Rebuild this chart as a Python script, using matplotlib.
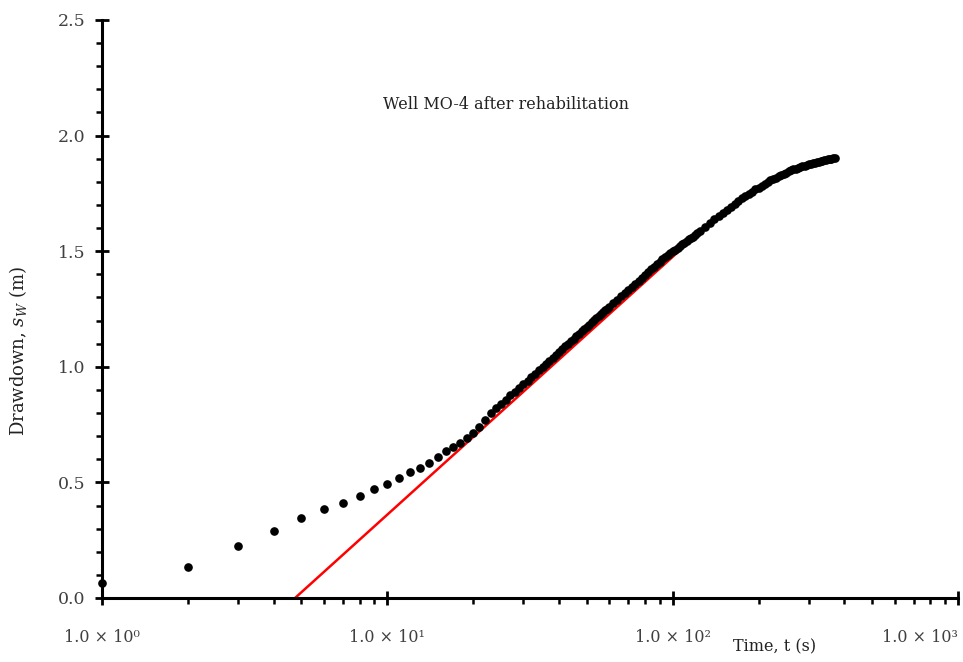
import numpy as np
import matplotlib
matplotlib.use("Agg")
import matplotlib.pyplot as plt
from matplotlib.ticker import LogLocator, MultipleLocator, FixedLocator, NullFormatter

# drawdown readings, well MO-4 after rehabilitation
time_s = [1, 2, 3, 4, 5, 6, 7, 8, 9, 10, 11, 12, 13, 14, 15, 16, 17, 18, 19, 20, 21,
          22, 23, 24, 25, 26, 27, 28, 29, 30,
          31, 32, 33, 34, 35, 36, 37, 38, 39, 40, 41, 42, 43, 44, 45, 46, 47, 48, 49, 50,
          51, 52, 53, 54, 55, 56, 57, 58, 59, 60,
          62, 64, 66, 68, 70, 72, 74, 76, 78, 80, 82, 84, 86, 88, 90,
          92, 94, 96, 98, 100, 102, 104, 106, 108, 110, 112, 114, 116, 118, 120, 122,
          125, 130, 135, 140, 145, 150, 155, 160, 165, 170, 175, 180, 185, 190, 195,
          200, 205, 210, 215, 220, 225, 230, 235, 240, 245, 250, 255, 260, 265, 270,
          275, 280, 285, 290, 295, 300, 305, 310, 315, 320, 325, 330, 335, 340, 345,
          350, 355, 360, 365, 370]
drawdown = [0.066, 0.135, 0.225, 0.289, 0.347, 0.384, 0.412, 0.441, 0.470, 0.492,
            0.520, 0.544, 0.564, 0.585, 0.609, 0.635, 0.652, 0.672, 0.693, 0.715, 0.740,
            0.770, 0.801, 0.821, 0.840, 0.858, 0.876, 0.893, 0.909, 0.925,
            0.940, 0.955, 0.970, 0.985, 0.999, 1.013, 1.026, 1.039, 1.052, 1.064,
            1.076, 1.088, 1.099, 1.110, 1.121, 1.132, 1.142, 1.153, 1.163, 1.173,
            1.182, 1.192, 1.201, 1.210, 1.218, 1.227, 1.235, 1.244, 1.252, 1.260,
            1.275, 1.290, 1.305, 1.319, 1.332, 1.346, 1.359, 1.372, 1.385, 1.397,
            1.409, 1.421, 1.432, 1.444, 1.455,
            1.465, 1.474, 1.483, 1.491, 1.500, 1.507, 1.515, 1.522, 1.530, 1.537,
            1.544, 1.551, 1.557, 1.563, 1.570, 1.577,
            1.588, 1.606, 1.623, 1.640, 1.653, 1.666, 1.678, 1.690, 1.703, 1.716,
            1.728, 1.740, 1.749, 1.758, 1.767,
            1.775, 1.783, 1.792, 1.800, 1.806, 1.812, 1.818, 1.824, 1.830, 1.835,
            1.840, 1.845, 1.850, 1.854, 1.857,
            1.861, 1.865, 1.867, 1.870, 1.872, 1.875, 1.878, 1.880, 1.883, 1.885,
            1.887, 1.889, 1.891, 1.893, 1.895,
            1.897, 1.898, 1.900, 1.902, 1.904]

# straight-line (Cooper-Jacob) fit
fit_time = [4.75, 139]
fit_drawdown = [0.0, 1.635]

x_ticks = [1, 10, 100, 1000]
x_tick_labels = ["1.0 × 10⁰", "1.0 × 10¹", "1.0 × 10²", "1.0 × 10³"]

plt.rcParams['font.family'] = 'DejaVu Serif'
plt.rcParams['mathtext.fontset'] = 'dejavuserif'

fig = plt.figure(figsize=(9.63, 6.62), dpi=100)
ax = fig.add_axes([0.1059, 0.0967, 0.8889, 0.8731])

ax.plot(fit_time, fit_drawdown, color='#ff0000', lw=1.8, zorder=2)
ax.plot(time_s, drawdown, 'o', color='black', ms=5.2, zorder=3, clip_on=False)

ax.set_xscale('log')
ax.set_xlim(1, 1000)
ax.set_ylim(0, 2.5)

ax.xaxis.set_major_locator(FixedLocator(x_ticks))
ax.set_xticklabels(x_tick_labels)
ax.xaxis.set_minor_locator(LogLocator(base=10, subs=np.arange(2, 10)))
ax.xaxis.set_minor_formatter(NullFormatter())
ax.yaxis.set_major_locator(MultipleLocator(0.5))
ax.yaxis.set_minor_locator(MultipleLocator(0.1))
ax.yaxis.set_major_formatter(matplotlib.ticker.FormatStrFormatter('%.1f'))

for s in ['top', 'right']:
    ax.spines[s].set_visible(False)
for s in ['left', 'bottom']:
    ax.spines[s].set_linewidth(2.2)

ax.tick_params(axis='x', which='major', direction='inout', length=10, width=2,
               pad=17, labelsize=11.5, labelcolor='#404040')
ax.tick_params(axis='x', which='minor', direction='out', length=4, width=1.8)
ax.tick_params(axis='y', which='major', direction='inout', length=10, width=2,
               pad=7, labelsize=12.5, labelcolor='#404040')
ax.tick_params(axis='y', which='minor', direction='out', length=4, width=1.8)

for lbl in ax.get_xticklabels():
    if lbl.get_text().endswith('³'):
        lbl.set_horizontalalignment('right')
        lbl.set_x(1000)

ax.text(0.786, -0.085, 'Time, t (s)', transform=ax.transAxes, ha='center', va='center',
        fontsize=11.5, color='#222222')
fig.text(0.019, 0.47, r'Drawdown, $s_{W}$ (m)', rotation=90, ha='center', va='center',
         fontsize=13, color='#222222')
fig.text(0.5255, 0.8414, 'Well MO-4 after rehabilitation', ha='center',
         va='center', fontsize=11.5, color='#222222')

fig.savefig('out.png', dpi=100)
